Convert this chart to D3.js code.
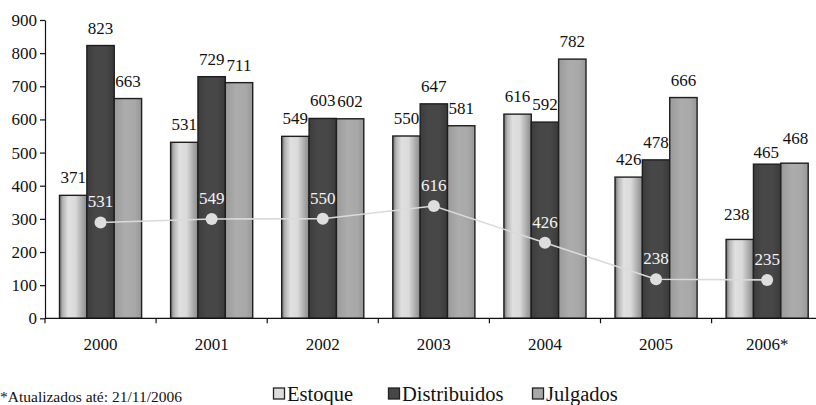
<!DOCTYPE html>
<html>
<head>
<meta charset="utf-8">
<script src="https://cdn.jsdelivr.net/npm/d3@7/dist/d3.min.js"></script>
<style>
  html, body { margin: 0; padding: 0; background: #fff; }
  svg, svg text { font-family: "Liberation Serif", Tinos, "Times New Roman", Times, "DejaVu Serif", serif; }
</style>
</head>
<body>
<svg id="chart" width="816" height="405"></svg>
<script>
// Processos por ano
const years = ["2000", "2001", "2002", "2003", "2004", "2005", "2006*"];
const estoque = [371, 531, 549, 550, 616, 426, 238];
const distribuidos = [823, 729, 603, 647, 592, 478, 465];
const julgados = [663, 711, 602, 581, 782, 666, 468];
const estoqueFinal = [531, 549, 550, 616, 426, 238, 235];
const yTicks = [0, 100, 200, 300, 400, 500, 600, 700, 800, 900];
const seriesNames = ["Estoque", "Distribuidos", "Julgados"];
const footnote = "*Atualizados até: 21/11/2006";

(function () {
const FONT = "'Liberation Serif', Tinos, 'Times New Roman', Times, 'DejaVu Serif', serif";
const svg = d3.select("#chart");
const plotLeft = 45, plotTop = 20, plotBottom = 318.3;
const step = 111.1;

const x0 = d3.scaleBand().domain(years).range([plotLeft, plotLeft + step * years.length]);
const x1 = d3.scaleBand().domain(seriesNames).range([14.5, step - 14.5]);
const y = d3.scaleLinear().domain([0, 900]).range([plotBottom, plotTop]);
// secondary (hidden) scale for the line series
const y2 = d3.scaleLinear().domain([37, 1575]).range([plotBottom, plotTop]);

// gradients
const defs = svg.append("defs");
function grad(id, stops) {
  const g = defs.append("linearGradient").attr("id", id)
    .attr("x1", "0%").attr("x2", "100%").attr("y1", "0%").attr("y2", "0%");
  stops.forEach(([o, c]) => g.append("stop").attr("offset", o).attr("stop-color", c));
}
grad("gEst", [["0%", "#6e6e6e"], ["12%", "#b4b4b4"], ["32%", "#e0e0e0"], ["58%", "#dadada"], ["82%", "#acacac"], ["100%", "#8a8a8a"]]);
grad("gDis", [["0%", "#3c3c3c"], ["30%", "#474747"], ["70%", "#474747"], ["100%", "#3a3a3a"]]);
grad("gJul", [["0%", "#9a9a9a"], ["40%", "#acacac"], ["75%", "#a8a8a8"], ["100%", "#979797"]]);

const fills = { "Estoque": "url(#gEst)", "Distribuidos": "url(#gDis)", "Julgados": "url(#gJul)" };
const legendFills = { "Estoque": "#dcdcdc", "Distribuidos": "#474747", "Julgados": "#a8a8a8" };

const rows = years.map((yr, i) => ({
  year: yr,
  values: [
    { key: "Estoque", value: estoque[i] },
    { key: "Distribuidos", value: distribuidos[i] },
    { key: "Julgados", value: julgados[i] }
  ]
}));

// label nudges where labels were moved apart (dx, dy in px)
const labelNudge = { "2006*": { "Estoque": [-3, -7], "Distribuidos": [-1, 6], "Julgados": [1, -7] } };
const nudge = (yr, key) => ((labelNudge[yr] || {})[key] || [0, 0]);

// y axis
const yAxis = d3.axisLeft(y).tickValues(yTicks).tickSize(5).tickPadding(3).tickSizeOuter(0);
const gy = svg.append("g").attr("transform", `translate(${plotLeft},0)`).call(yAxis)
  .attr("font-family", FONT);
gy.select(".domain").attr("stroke", "#111").attr("stroke-width", 1.2);
gy.selectAll(".tick line").attr("stroke", "#111").attr("stroke-width", 1.2);
gy.selectAll(".tick text").attr("font-size", 17).attr("fill", "#111").attr("font-family", FONT);

// bars
const groups = svg.append("g").selectAll("g").data(rows).join("g")
  .attr("transform", d => `translate(${x0(d.year)},0)`);

groups.selectAll("rect").data(d => d.values).join("rect")
  .attr("x", d => x1(d.key))
  .attr("width", x1.bandwidth())
  .attr("y", d => y(d.value))
  .attr("height", d => y(0) - y(d.value))
  .attr("fill", d => fills[d.key])
  .attr("stroke", "#1e1e1e")
  .attr("stroke-width", 1.4);

groups.selectAll("text.val").data(d => d.values.map(v => ({ ...v, year: d.year }))).join("text")
  .attr("class", "val")
  .attr("x", d => x1(d.key) + x1.bandwidth() / 2 + nudge(d.year, d.key)[0])
  .attr("y", d => y(d.value) - 12 + nudge(d.year, d.key)[1])
  .attr("text-anchor", "middle")
  .attr("font-family", FONT)
  .attr("font-size", 17)
  .attr("fill", "#111")
  .text(d => d.value);

// x axis
svg.append("line").attr("x1", plotLeft).attr("x2", 816).attr("y1", plotBottom).attr("y2", plotBottom)
  .attr("stroke", "#111").attr("stroke-width", 1.2);
const boundaries = years.map(yr => x0(yr)).concat([x0(years[years.length - 1]) + x0.bandwidth()]);
svg.append("g").selectAll("line").data(boundaries).join("line")
  .attr("x1", d => d).attr("x2", d => d)
  .attr("y1", plotBottom).attr("y2", plotBottom + 5)
  .attr("stroke", "#111").attr("stroke-width", 1.2);
svg.append("g").selectAll("text").data(years).join("text")
  .attr("x", d => x0(d) + x0.bandwidth() / 2)
  .attr("y", 349.5)
  .attr("text-anchor", "middle")
  .attr("font-family", FONT)
  .attr("font-size", 17)
  .attr("fill", "#111")
  .text(d => d);

// line series
const pts = years.map((yr, i) => ({ x: x0(yr) + x0.bandwidth() / 2, y: y2(estoqueFinal[i]), v: estoqueFinal[i] }));
svg.append("path").datum(pts)
  .attr("d", d3.line().x(d => d.x).y(d => d.y))
  .attr("fill", "none").attr("stroke", "#dadada").attr("stroke-width", 1.6);
svg.append("g").selectAll("circle").data(pts).join("circle")
  .attr("cx", d => d.x).attr("cy", d => d.y).attr("r", 6)
  .attr("fill", "#dedede");
svg.append("g").selectAll("text").data(pts).join("text")
  .attr("x", d => d.x)
  .attr("y", d => d.y - 15)
  .attr("text-anchor", "middle")
  .attr("font-family", FONT)
  .attr("font-size", 17)
  .attr("fill", "#f4f4f4")
  .text(d => d.v);

// legend
const legendX = [273, 388, 532];
const lg = svg.append("g").selectAll("g").data(seriesNames).join("g")
  .attr("transform", (d, i) => `translate(${legendX[i]},0)`);
lg.append("rect").attr("x", 0.5).attr("y", 388).attr("width", 11).attr("height", 11)
  .attr("fill", d => legendFills[d]).attr("stroke", "#222").attr("stroke-width", 1.3);
lg.append("text").attr("x", 14).attr("y", 401)
  .attr("font-family", FONT)
  .attr("font-size", 20.5).attr("fill", "#111").text(d => d);

// footnote
svg.append("text").attr("x", 0).attr("y", 402)
  .attr("font-family", FONT)
  .attr("font-size", 15.5).attr("fill", "#111").text(footnote);
})();
</script>
</body>
</html>
